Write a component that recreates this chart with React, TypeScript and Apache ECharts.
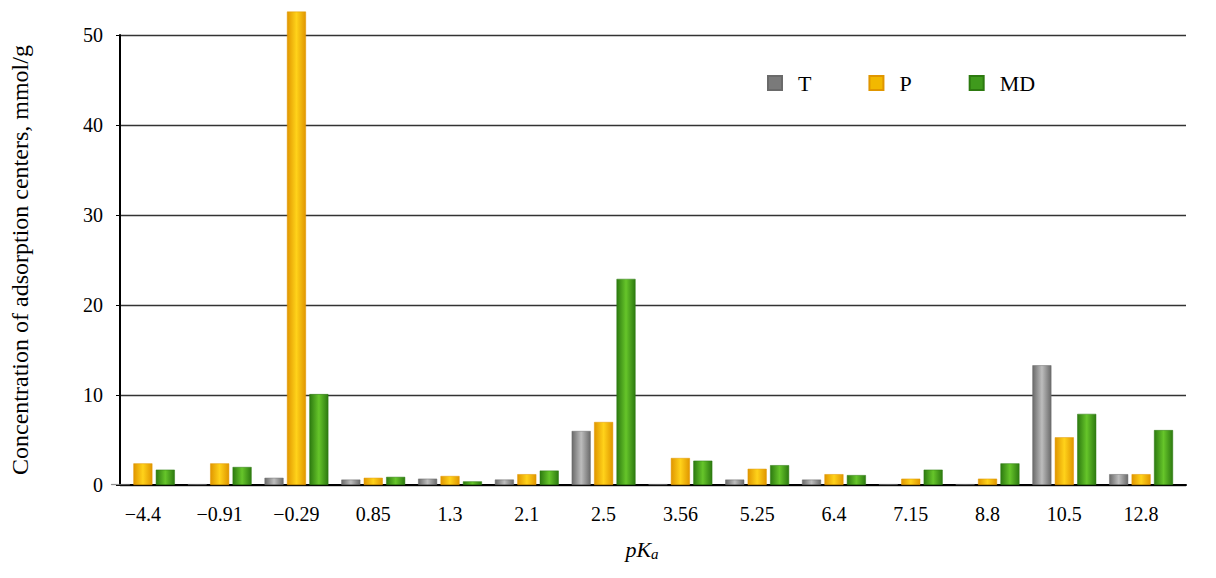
import React, { useEffect, useRef } from "react";
import * as echarts from "echarts";

const categories = ["\u22124.4", "\u22120.91", "\u22120.29", "0.85", "1.3", "2.1", "2.5", "3.56", "5.25", "6.4", "7.15", "8.8", "10.5", "12.8"];
const seriesT = [0.1, 0.1, 0.8, 0.6, 0.7, 0.6, 6.0, 0.1, 0.6, 0.6, 0.1, 0.1, 13.3, 1.2];
const seriesP = [2.4, 2.4, 52.6, 0.8, 1.0, 1.2, 7.0, 3.0, 1.8, 1.2, 0.7, 0.7, 5.3, 1.2];
const seriesMD = [1.7, 2.0, 10.1, 0.9, 0.4, 1.6, 22.9, 2.7, 2.2, 1.1, 1.7, 2.4, 7.9, 6.1];
const yTicks = { min: 0, max: 50, interval: 10 };

const FONT = "Liberation Serif";

function grad(edge: string, mid: string) {
  return new echarts.graphic.LinearGradient(0, 0, 1, 0, [
    { offset: 0, color: edge },
    { offset: 0.5, color: mid },
    { offset: 1, color: edge },
  ]);
}

export default function App() {
  const ref = useRef<HTMLDivElement>(null);
  useEffect(() => {
    document.body.style.margin = "0";
    const chart = echarts.init(ref.current!, undefined, { renderer: "svg" });
    const mk = (name: string, data: number[], edge: string, mid: string) => ({
      name,
      type: "bar",
      data,
      xAxisIndex: 1,
      yAxisIndex: 1,
      barWidth: 19,
      barGap: "18%",
      clip: false,
      itemStyle: {
        color: grad(edge, mid),
        borderColor: edge,
        borderWidth: 0.5,
      },
      emphasis: { disabled: true },
    });
    chart.setOption({
      animation: false,
      backgroundColor: "#ffffff",
      grid: [
        { left: 112, right: 30, top: 35, bottom: 93, containLabel: false },
        { left: 104.5, right: 36.5, top: 35, bottom: 93, containLabel: false },
      ],
      legend: {
        left: 762,
        top: 67,
        itemWidth: 14,
        itemHeight: 14,
        itemGap: 57,
        icon: "rect",
        textStyle: { fontFamily: FONT, fontSize: 22, color: "#000", padding: [0, 0, 0, 11] },
        data: [
          { name: "T", itemStyle: { color: "#7a7a7a" } },
          { name: "P", itemStyle: { color: "#f2b800" } },
          { name: "MD", itemStyle: { color: "#3f9a1c" } },
        ],
      },
      xAxis: [
        {
          type: "value",
          gridIndex: 0,
          min: 0,
          max: 1,
          axisLine: { show: true, onZero: false, lineStyle: { color: "#000", width: 2 } },
          axisTick: { show: false },
          axisLabel: { show: false },
          splitLine: { show: false },
        },
        {
          type: "category",
          gridIndex: 1,
          data: categories,
          name: "{i|pK}{s|a}",
          nameLocation: "middle",
          nameGap: 52,
          nameTextStyle: {
            rich: {
              i: { fontFamily: FONT, fontStyle: "italic", fontSize: 22, color: "#000" },
              s: { fontFamily: FONT, fontStyle: "italic", fontSize: 15, color: "#000", verticalAlign: "bottom", padding: [9, 0, 0, 0] },
            },
          },
          axisLine: { show: false },
          axisTick: { show: false },
          axisLabel: { fontFamily: FONT, fontSize: 20, color: "#000", margin: 19 },
        },
      ],
      yAxis: [
        {
          type: "value",
          gridIndex: 0,
          min: yTicks.min,
          max: yTicks.max,
          interval: yTicks.interval,
          name: "Concentration of adsorption centers, mmol/g",
          nameLocation: "middle",
          nameGap: 88,
          nameTextStyle: { fontFamily: FONT, fontSize: 24, color: "#000" },
          axisLine: { show: true, lineStyle: { color: "#000", width: 2 } },
          axisTick: { show: true, length: 4, lineStyle: { color: "#000" } },
          axisLabel: { fontFamily: FONT, fontSize: 20, color: "#000", margin: 17 },
          splitLine: { show: true, lineStyle: { color: "#333", width: 1.3 } },
        },
        {
          type: "value",
          gridIndex: 1,
          min: yTicks.min,
          max: yTicks.max,
          interval: yTicks.interval,
          show: false,
          splitLine: { show: false },
        },
      ],
      series: [
        mk("T", seriesT, "#6a6a6a", "#bdbdbd"),
        mk("P", seriesP, "#e09600", "#ffd21a"),
        mk("MD", seriesMD, "#2d7a10", "#66c52a"),
      ],
    });
    return () => chart.dispose();
  }, []);
  return <div ref={ref} style={{ width: 1216, height: 578 }} />;
}
